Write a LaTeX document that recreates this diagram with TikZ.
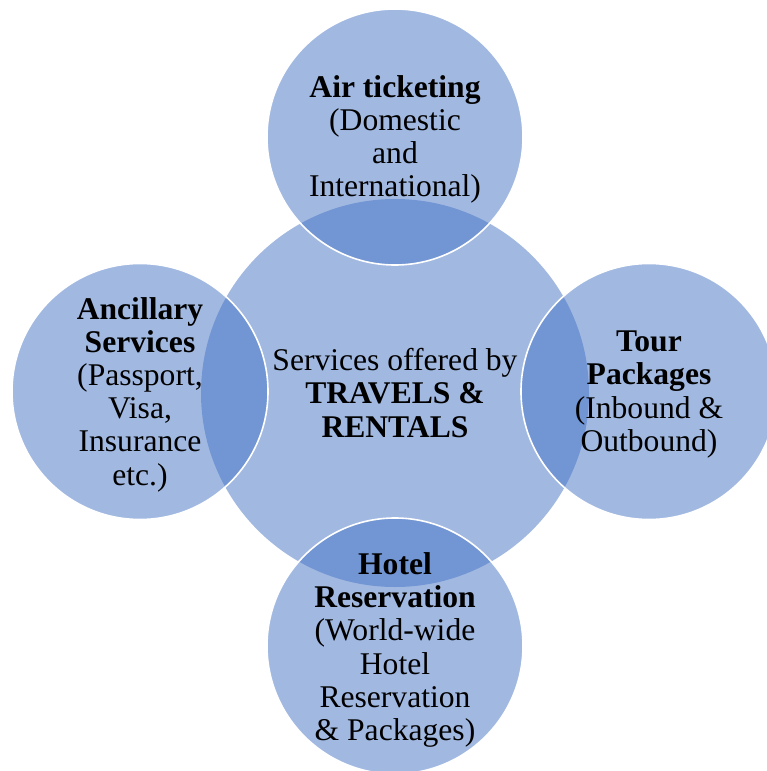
\documentclass[tikz,border=0pt]{standalone}
\usepackage{fontspec}
\setmainfont{Liberation Serif}
\definecolor{accent}{HTML}{4472C4}
\tikzset{
  disc/.style={circle, fill=accent, fill opacity=0.5, inner sep=0pt, minimum size=#1},
  outerdisc/.style={disc=256pt, draw=white, draw opacity=1, line width=1.6pt},
  lbl/.style={align=center, inner sep=0pt, text=black, font=\fontsize{31.6}{33.2}\selectfont},
}
\begin{document}
\begin{tikzpicture}[x=1pt,y=-1pt]
\useasboundingbox (0,0) rectangle (767,771);
\clip (0,0) rectangle (767,771);
% circles
\node[disc=388pt] (c) at (395,393) {};
\node[outerdisc] (t) at (395,137) {};
\node[outerdisc] (l) at (140,391.5) {};
\node[outerdisc] (r) at (649,391.5) {};
\node[outerdisc] (b) at (395,646) {};
% texts
\node[lbl] (ct) at (c.center) {Services offered by\\\textbf{TRAVELS \&}\\\textbf{RENTALS}};
\node[lbl, yshift=-2.5pt] (tt) at (t.center) {\textbf{Air ticketing}\\(Domestic\\and\\International)};
\node[lbl, yshift=-3pt] (lt) at (l.center) {\textbf{Ancillary}\\\textbf{Services}\\(Passport,\\Visa,\\Insurance\\etc.)};
\node[lbl, yshift=-3pt] (rt) at (r.center) {\textbf{Tour}\\\textbf{Packages}\\(Inbound \&\\Outbound)};
\node[lbl, yshift=-4pt] (bt) at (b.center) {\textbf{Hotel}\\\textbf{Reservation}\\(World-wide\\Hotel\\Reservation\\\& Packages)};
\end{tikzpicture}
\end{document}
